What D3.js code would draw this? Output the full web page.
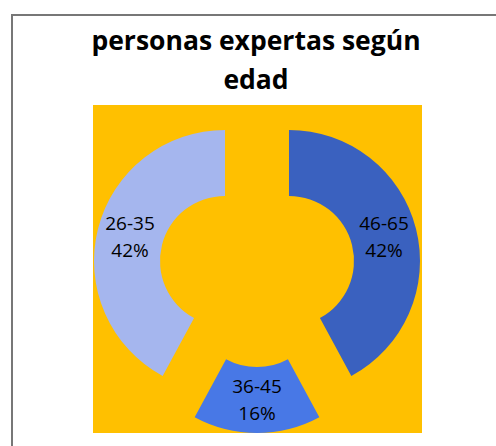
<!DOCTYPE html>
<html lang="es">
<head>
    <meta charset="UTF-8">
    <script src="https://d3js.org/d3.v7.min.js"></script>
    <title>personas expertas según edad</title>
    <style>
        body { margin: 0; background: #fff; }
        text { font-family: "Open Sans", "Liberation Sans", sans-serif; }
    </style>
</head>
<body>
    <div id="my_chart"></div>
    <script>
        // data
        var categories = ["46-65", "36-45", "26-35"];
        var values = [8, 3, 8];
        var colors = ["#3A61BF", "#4878E6", "#A5B6EE"];
        var titleLines = ["personas expertas según", "edad"];

        var width = 496, height = 446;

        var svg = d3.select("#my_chart")
            .append("svg")
            .attr("width", width)
            .attr("height", height);

        // chart frame (runs off the right and bottom edge)
        svg.append("rect")
            .attr("x", 12).attr("y", 15)
            .attr("width", 600).attr("height", 600)
            .attr("fill", "#fff")
            .attr("stroke", "#777")
            .attr("stroke-width", 2);

        // title
        svg.selectAll(".title")
            .data(titleLines)
            .enter()
            .append("text")
            .attr("class", "title")
            .attr("x", 256)
            .attr("y", function (d, i) { return 50 + i * 39; })
            .attr("text-anchor", "middle")
            .attr("font-size", "26.5px")
            .attr("font-weight", "bold")
            .attr("fill", "#000")
            .text(function (d) { return d; });

        // plot area
        svg.append("rect")
            .attr("x", 93).attr("y", 105)
            .attr("width", 329).attr("height", 328)
            .attr("fill", "#FFC000");

        var cx = 257, cy = 269;
        var outerR = 131, innerR = 65, explode = 33;

        var data = categories.map(function (c, i) { return { cat: c, value: values[i], color: colors[i] }; });
        var total = d3.sum(values);

        var pie = d3.pie()
            .sort(null)
            .value(function (d) { return d.value; });

        var arc = d3.arc()
            .innerRadius(innerR)
            .outerRadius(outerR);

        var labelArc = d3.arc()
            .innerRadius((innerR + outerR) / 2)
            .outerRadius((innerR + outerR) / 2);

        function offset(d) {
            var a = (d.startAngle + d.endAngle) / 2;
            return [explode * Math.sin(a), -explode * Math.cos(a)];
        }

        var g = svg.append("g")
            .attr("transform", "translate(" + cx + "," + cy + ")");

        var slices = g.selectAll(".slice")
            .data(pie(data))
            .enter()
            .append("g")
            .attr("class", "slice")
            .attr("transform", function (d) {
                var o = offset(d);
                return "translate(" + o[0] + "," + o[1] + ")";
            });

        slices.append("path")
            .attr("d", arc)
            .attr("fill", function (d) { return d.data.color; });

        var labels = slices.append("text")
            .attr("transform", function (d) {
                var c = labelArc.centroid(d);
                return "translate(" + c[0] + "," + c[1] + ")";
            })
            .attr("text-anchor", "middle")
            .attr("font-size", "19px")
            .attr("fill", "#000");

        labels.append("tspan")
            .attr("x", 0)
            .attr("y", -13.5)
            .attr("dy", "0.35em")
            .text(function (d) { return d.data.cat; });

        labels.append("tspan")
            .attr("x", 0)
            .attr("y", 13.5)
            .attr("dy", "0.35em")
            .text(function (d) { return Math.round(d.data.value / total * 100) + "%"; });
    </script>
</body>
</html>
